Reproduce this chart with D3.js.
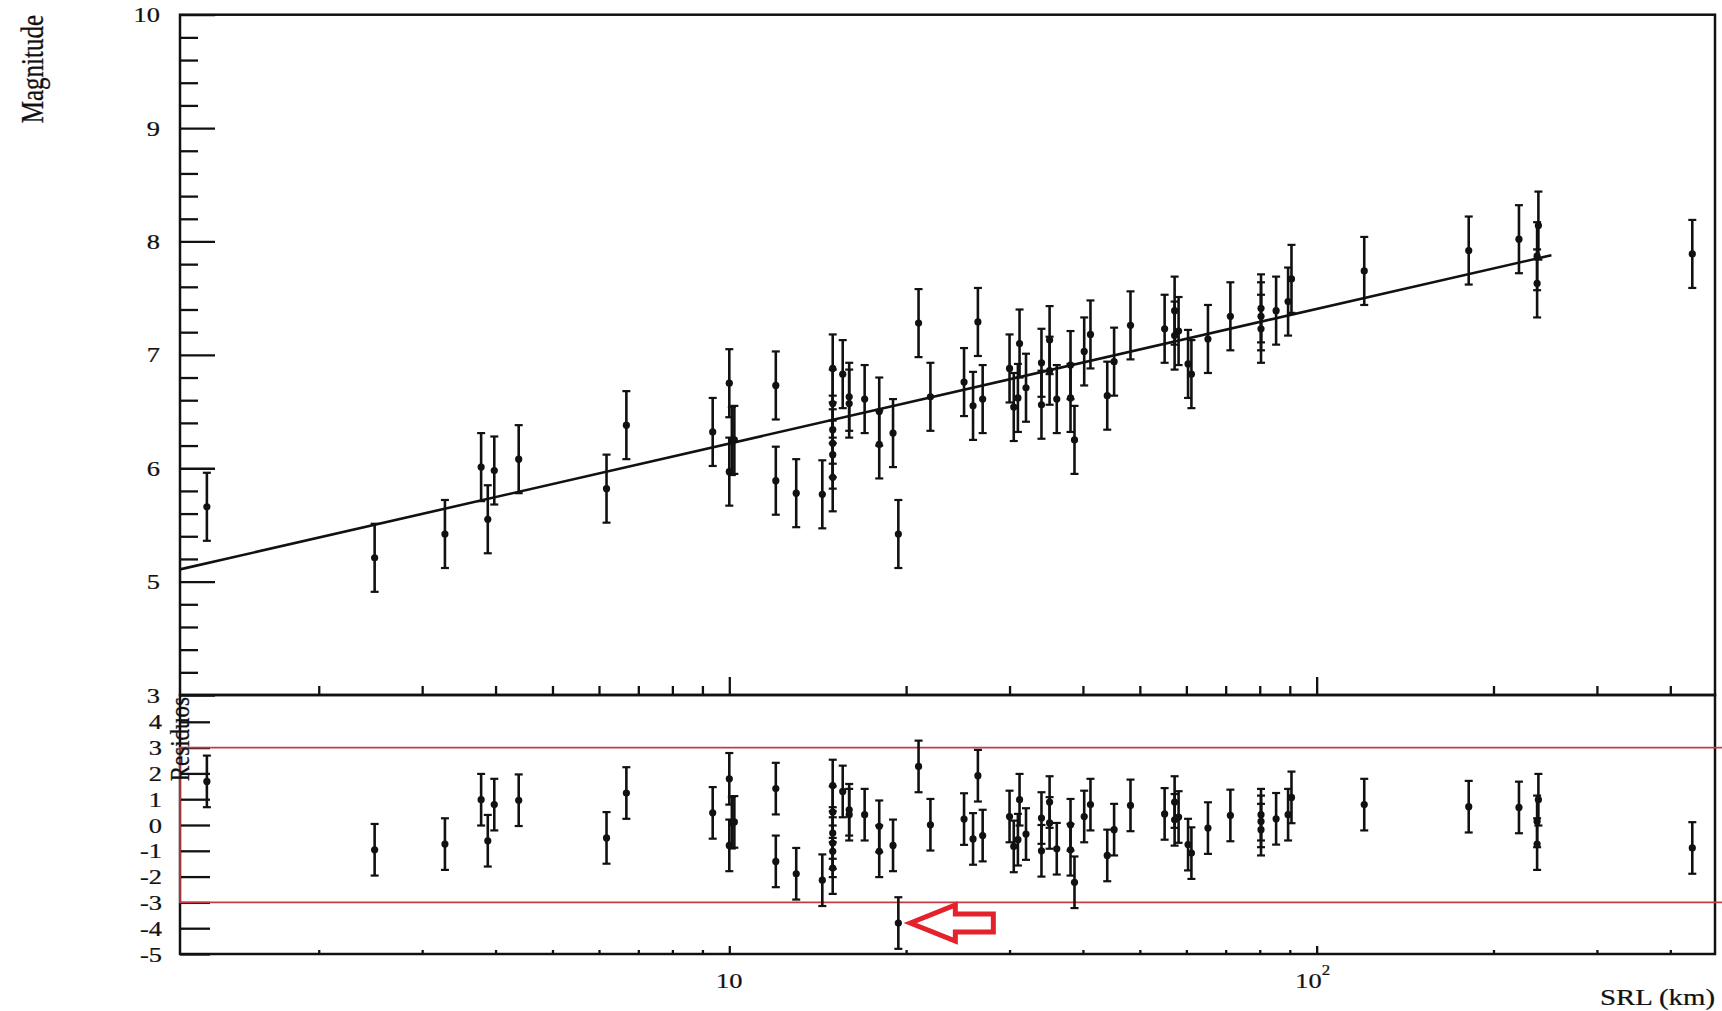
<!DOCTYPE html>
<html>
<head>
<meta charset="utf-8">
<script src="https://cdn.jsdelivr.net/npm/d3@7"></script>
<style>
  body { margin: 0; background: #fff; }
  text { font-family: "Liberation Serif", "DejaVu Serif", serif; fill: #111; stroke: #111; stroke-width: 0.25; }
</style>
</head>
<body>
<script>
// values (SRL in km, magnitude, normalised residual)
var srl = [1.29, 2.49, 3.28, 3.78, 3.88, 3.98, 4.38, 6.18, 6.68, 9.37,
           10.0, 10.0, 10.1, 10.2, 12.0, 12.0, 13.0, 14.4, 15.0, 15.0,
           15.0, 15.0, 15.0, 15.0, 15.6, 16.0, 16.0, 17.0, 18.0, 18.0,
           19.0, 19.4, 21.0, 22.0, 25.1, 26.0, 26.5, 27.0, 30.0, 30.5,
           31.0, 31.2, 32.0, 34.0, 34.0, 35.1, 35.1, 36.1, 38.1, 38.1,
           38.7, 40.2, 41.2, 44.0, 45.2, 48.2, 55.1, 57.3, 57.3, 58.2,
           60.4, 61.2, 65.3, 71.3, 80.4, 80.4, 80.4, 85.3, 89.4, 90.6,
           120.5, 181.5, 221, 238.5, 237.3, 237.3, 436];
var magnitude = [5.66, 5.21, 5.42, 6.01, 5.55, 5.98, 6.08, 5.82, 6.38, 6.32,
                 6.75, 5.97, 6.24, 6.25, 6.73, 5.89, 5.78, 5.77, 6.88, 6.57,
                 6.34, 6.22, 6.12, 5.92, 6.83, 6.63, 6.57, 6.61, 6.50, 6.21,
                 6.31, 5.42, 7.28, 6.63, 6.76, 6.55, 7.29, 6.61, 6.88, 6.54,
                 6.62, 7.10, 6.71, 6.93, 6.56, 7.13, 6.86, 6.61, 6.91, 6.62,
                 6.25, 7.03, 7.18, 6.64, 6.94, 7.26, 7.23, 7.39, 7.17, 7.21,
                 6.92, 6.83, 7.14, 7.34, 7.41, 7.34, 7.23, 7.39, 7.47, 7.67,
                 7.74, 7.92, 8.02, 8.14, 7.87, 7.63, 7.89];
var residual = [1.69, -0.96, -0.74, 0.98, -0.61, 0.79, 0.96, -0.50, 1.24, 0.47,
                1.79, -0.79, 0.09, 0.12, 1.41, -1.41, -1.89, -2.14, 1.53, 0.50,
                -0.31, -0.70, -1.02, -1.67, 1.30, 0.59, 0.40, 0.40, -0.05, -1.02,
                -0.79, -3.80, 2.27, 0.01, 0.23, -0.54, 1.91, -0.41, 0.33, -0.83,
                -0.57, 0.98, -0.35, 0.27, -1.00, 0.89, 0.08, -0.92, 0.01, -0.96,
                -2.22, 0.33, 0.79, -1.18, -0.18, 0.76, 0.43, 0.89, 0.20, 0.31,
                -0.76, -1.09, -0.12, 0.37, 0.40, 0.14, -0.18, 0.24, 0.40, 1.07,
                0.79, 0.71, 0.68, 0.98, 0.14, -0.74, -0.89];
var magError = 0.3;
var residualError = 1.0;

// straight-line fit drawn between two end points
var fitSrl = [1.161, 251];
var fitMagnitude = [5.108, 7.879];

// residual band and the flagged point
var residualLimits = [3, -3];
var arrowTarget = [19.4, -3.8];

// ticks and their labels
var magTicks = [4, 5, 6, 7, 8, 9, 10];
var magTickLabels = ["3", "5", "6", "7", "8", "9", "10"];
var residualTicks = [4, 3, 2, 1, 0, -1, -2, -3, -4, -5];
var residualTickLabels = ["4", "3", "2", "1", "0", "-1", "-2", "-3", "-4", "-5"];
var srlTicks = [10, 100];
var srlTickLabels = ["10", "10^2"];

var width = 1722;
var height = 1011;

var frame = {
  left: 180,
  right: 1715,
  top: 14.7,
  middle: 695,
  bottom: 954
};

var stretch = 1.2;

var svg = d3.select("body")
            .append("svg")
            .attr("width", width)
            .attr("height", height)
            .style("background", "#fff");

// scales
var xScale = d3.scaleLog().domain([1.161, 476.6]).range([frame.left, frame.right]);
var yMag = d3.scaleLinear().domain([4, 10]).range([frame.middle, frame.top]);
var yRes = d3.scaleLinear().domain([-5, 5]).range([frame.bottom, 696]);

// minor tick values
var xMinor = [];
[1, 10, 100].forEach(function(d) {
  for (var k = 2; k <= 9; k++) {
    if (d * k > 1.161 && d * k < 476.6) xMinor.push(d * k);
  }
});
var magMinor = d3.range(4.2, 10, 0.2).filter(function(v) {
  return Math.abs(v - Math.round(v)) > 0.01;
});

function tickAxis(axis, transform) {
  var g = svg.append("g").attr("transform", transform).call(axis);
  g.select(".domain").remove();
  g.selectAll("line").attr("stroke", "#111").attr("stroke-width", 2.3);
  g.selectAll("text").remove();
  return g;
}

// upper panel ticks
tickAxis(d3.axisLeft(yMag).tickValues(magTicks).tickSize(-35).tickFormat(""),
         `translate(${frame.left},0)`);
tickAxis(d3.axisLeft(yMag).tickValues(magMinor).tickSize(-18).tickFormat(""),
         `translate(${frame.left},0)`);
tickAxis(d3.axisBottom(xScale).tickValues(srlTicks).tickSize(-18).tickFormat(""),
         `translate(0,${frame.middle})`);
tickAxis(d3.axisBottom(xScale).tickValues(xMinor).tickSize(-9).tickFormat(""),
         `translate(0,${frame.middle})`);

// lower panel ticks
tickAxis(d3.axisLeft(yRes).tickValues(residualTicks).tickSize(-30).tickFormat(""),
         `translate(${frame.left},0)`);
tickAxis(d3.axisBottom(xScale).tickValues(srlTicks).tickSize(-8).tickFormat(""),
         `translate(0,${frame.bottom})`);
tickAxis(d3.axisBottom(xScale).tickValues(xMinor).tickSize(-4).tickFormat(""),
         `translate(0,${frame.bottom})`);

// frames
svg.append("rect")
   .attr("x", frame.left).attr("y", frame.top)
   .attr("width", frame.right - frame.left).attr("height", frame.middle - frame.top)
   .attr("fill", "none").attr("stroke", "#111").attr("stroke-width", 2.5);
svg.append("rect")
   .attr("x", frame.left).attr("y", frame.middle)
   .attr("width", frame.right - frame.left).attr("height", frame.bottom - frame.middle)
   .attr("fill", "none").attr("stroke", "#111").attr("stroke-width", 2.5);

// tick labels (the picture is slightly stretched sideways)
function label(x, y, str, size, anchor) {
  return svg.append("text")
            .attr("transform", `translate(${x},${y}) scale(${stretch},1)`)
            .attr("text-anchor", anchor)
            .style("font-size", size + "px")
            .text(str);
}

magTicks.forEach(function(v, i) {
  label(160, yMag(v) + 7.5, magTickLabels[i], 22, "end");
});
residualTicks.forEach(function(v, i) {
  label(162, yRes(v) + 7.5, residualTickLabels[i], 22, "end");
});
srlTicks.forEach(function(v, i) {
  var parts = srlTickLabels[i].split("^");
  var t = label(xScale(v) + (parts[1] ? -4 : 0), 988, parts[0], 22, "middle");
  if (parts[1]) {
    t.append("tspan").attr("dy", -13).style("font-size", "14px").text(parts[1]);
  }
});

// axis titles
label(frame.right, 1005, "SRL (km)", 24, "end");
svg.append("text")
   .attr("transform", `translate(43,15) scale(1.3,1) rotate(-90)`)
   .attr("text-anchor", "end")
   .style("font-size", "25px")
   .text("Magnitude");

// fit line
var fitPoints = fitSrl.map(function(d, i) { return [d, fitMagnitude[i]]; });
svg.append("path")
   .attr("d", d3.line().x(function(d) { return xScale(d[0]); })
                       .y(function(d) { return yMag(d[1]); })(fitPoints))
   .attr("fill", "none")
   .attr("stroke", "#111")
   .attr("stroke-width", 2.6);

// error bars with markers
function errorBars(values, err, yScale) {
  var g = svg.append("g");
  var pts = g.selectAll("g").data(srl).enter().append("g");
  pts.append("line")
     .attr("x1", function(d) { return xScale(d); })
     .attr("x2", function(d) { return xScale(d); })
     .attr("y1", function(d, i) { return yScale(values[i] - err); })
     .attr("y2", function(d, i) { return yScale(values[i] + err); })
     .attr("stroke", "#111").attr("stroke-width", 2.6);
  [-err, err].forEach(function(e) {
    pts.append("line")
       .attr("x1", function(d) { return xScale(d) - 4; })
       .attr("x2", function(d) { return xScale(d) + 4; })
       .attr("y1", function(d, i) { return yScale(values[i] + e); })
       .attr("y2", function(d, i) { return yScale(values[i] + e); })
       .attr("stroke", "#111").attr("stroke-width", 2.2);
  });
  pts.append("circle")
     .attr("cx", function(d) { return xScale(d); })
     .attr("cy", function(d, i) { return yScale(values[i]); })
     .attr("r", 3.6)
     .attr("fill", "#111");
}

errorBars(magnitude, magError, yMag);

// residual band
svg.append("path")
   .attr("d", `M${width},${yRes(residualLimits[0])}H${frame.left}V${yRes(residualLimits[1])}H${width}`)
   .attr("fill", "none")
   .attr("stroke", "#c23b45")
   .attr("stroke-width", 1.7);

errorBars(residual, residualError, yRes);

svg.append("text")
   .attr("transform", `translate(189,697) scale(${stretch},1) rotate(-90)`)
   .attr("text-anchor", "end")
   .style("font-size", "23px")
   .text("Residuos");

// arrow pointing at the outlier
var ax = xScale(arrowTarget[0]) + 12;
var ay = yRes(arrowTarget[1]);
var arrowShape = [[0, 0], [45, -18], [45, -9], [83, -9], [83, 9], [45, 9], [45, 18]];
svg.append("path")
   .attr("d", d3.line()(arrowShape.map(function(p) { return [ax + p[0], ay + p[1]]; })) + "Z")
   .attr("fill", "#fff")
   .attr("stroke", "#e4222b")
   .attr("stroke-width", 5)
   .attr("stroke-linejoin", "miter");
</script>
</body>
</html>
